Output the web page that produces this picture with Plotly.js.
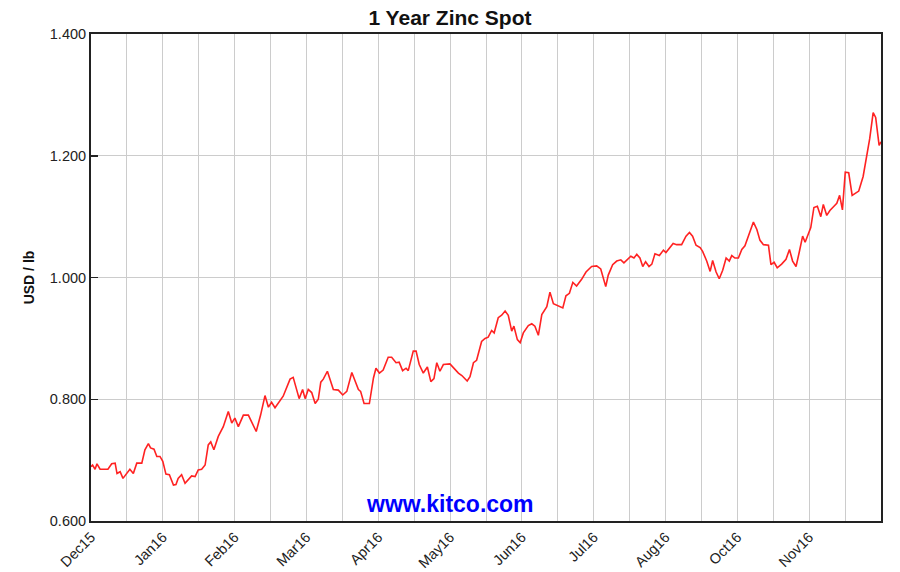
<!DOCTYPE html>
<html>
<head>
<meta charset="utf-8">
<script src="https://cdn.plot.ly/plotly-3.0.1.min.js"></script>
<style>html,body{margin:0;padding:0;background:#fff;}#chart{width:900px;height:572px;}</style>
</head>
<body>
<div id="chart"></div>
<script>
// Trading-day index (0 = start of Dec 2015) and zinc spot price in USD/lb
const tradingDay = [
  0.0,0.5,1.3,1.9,2.9,5.4,6.6,7.7,8.3,9.3,10.2,11.4,12.4,13.5,14.6,16.2,17.2,18.3,19.0,20.1,
  21.0,22.0,22.9,23.9,25.0,26.3,27.1,27.8,28.9,30.0,31.0,32.1,33.2,34.2,35.3,36.4,37.4,38.2,39.2,40.6,
  42.2,43.8,44.9,45.9,47.0,48.6,50.2,51.0,52.7,54.1,55.5,56.6,57.6,58.7,60.3,61.3,63.5,64.5,66.4,67.5,
  68.3,69.3,70.4,71.5,72.5,73.3,74.1,75.4,77.3,78.9,80.3,81.6,83.2,84.2,85.3,86.0,87.1,88.8,90.1,90.9,
  92.0,93.2,94.8,95.9,97.3,98.3,99.4,100.5,101.2,102.8,103.7,104.7,106.0,107.3,108.4,109.4,110.3,111.3,112.4,114.5,
  116.1,117.2,118.3,120.0,120.9,122.0,123.0,124.6,125.7,126.7,127.8,128.6,129.9,131.0,132.1,133.1,134.2,134.9,136.0,136.9,
  137.9,139.5,140.6,141.6,142.7,143.8,145.4,146.4,147.5,148.7,150.5,151.5,152.6,153.7,154.9,156.5,157.9,159.7,161.3,162.6,
  163.4,164.2,165.0,166.4,167.7,169.0,170.0,171.1,172.2,173.2,174.1,175.1,176.0,176.9,178.0,178.9,179.9,181.3,182.6,183.4,
  184.5,185.7,186.8,188.4,189.8,190.9,191.9,193.0,194.3,195.1,196.4,197.5,198.3,199.4,200.4,201.5,202.6,203.6,204.4,205.4,
  206.5,207.6,208.6,210.0,211.3,212.4,213.4,214.5,216.1,216.9,217.9,218.9,220.3,221.7,222.8,223.8,224.9,225.9,227.0,227.8,
  228.8,229.6,230.6,231.7,232.8,233.6,234.7,235.7,237.0,237.9,238.8,239.7,240.6,241.7,242.8,244.2,244.9,246.3,247.4,248.4,
  249.5,250.3,251.4,252.0
];
const price = [
  0.689,0.692,0.685,0.694,0.685,0.685,0.694,0.695,0.678,0.681,0.670,0.678,0.685,0.678,0.695,0.695,0.717,0.727,0.720,0.718,
  0.706,0.706,0.698,0.677,0.676,0.659,0.660,0.670,0.676,0.662,0.667,0.674,0.673,0.684,0.685,0.692,0.725,0.730,0.717,0.739,
  0.755,0.780,0.761,0.769,0.755,0.774,0.774,0.765,0.747,0.774,0.806,0.787,0.795,0.786,0.798,0.805,0.833,0.836,0.801,0.816,
  0.801,0.816,0.811,0.793,0.800,0.828,0.833,0.846,0.816,0.815,0.807,0.813,0.844,0.832,0.816,0.813,0.793,0.793,0.835,0.851,
  0.843,0.848,0.869,0.869,0.860,0.861,0.847,0.851,0.847,0.879,0.879,0.857,0.843,0.853,0.829,0.834,0.860,0.846,0.857,0.858,
  0.849,0.843,0.839,0.830,0.837,0.860,0.864,0.895,0.900,0.902,0.913,0.909,0.934,0.938,0.945,0.938,0.912,0.920,0.898,0.893,
  0.909,0.921,0.924,0.920,0.905,0.939,0.952,0.976,0.957,0.954,0.950,0.970,0.974,0.992,0.986,0.997,1.009,1.018,1.019,1.014,
  0.999,0.985,1.004,1.021,1.027,1.029,1.024,1.029,1.035,1.032,1.038,1.032,1.018,1.026,1.018,1.022,1.039,1.036,1.045,1.041,
  1.049,1.056,1.054,1.054,1.068,1.074,1.068,1.053,1.049,1.043,1.027,1.010,1.028,1.009,0.998,1.012,1.032,1.027,1.036,1.032,
  1.032,1.046,1.052,1.071,1.091,1.079,1.061,1.054,1.053,1.021,1.025,1.016,1.022,1.030,1.046,1.027,1.018,1.041,1.068,1.058,
  1.071,1.082,1.115,1.117,1.100,1.120,1.102,1.110,1.117,1.122,1.135,1.111,1.173,1.172,1.135,1.139,1.142,1.166,1.200,1.228,
  1.271,1.263,1.217,1.223
];
// Axis labels
const monthLabels = ["Dec15","Jan16","Feb16","Mar16","Apr16","May16","Jun16","Jul16","Aug16","Oct16","Nov16"];
const yTicks = [0.6, 0.8, 1.0, 1.2, 1.4];
const totalDays = 252;
const gridCount = 22;

const tickvals = [], ticktext = [];
for (let k = 0; k <= gridCount; k++) {
  tickvals.push(k * totalDays / gridCount);
  ticktext.push(k % 2 === 0 && monthLabels[k / 2] ? monthLabels[k / 2] : "");
}

const trace = {
  x: tradingDay, y: price, type: "scatter", mode: "lines",
  line: {color: "#ff2222", width: 1.6}, hoverinfo: "skip"
};

const font = "Arial, 'Liberation Sans', sans-serif";
const layout = {
  width: 900, height: 572,
  margin: {l: 91, r: 19, t: 34, b: 51, pad: 0},
  paper_bgcolor: "#ffffff", plot_bgcolor: "#ffffff",
  showlegend: false,
  title: {text: "<b>1 Year Zinc Spot</b>", font: {family: font, size: 21, color: "#111"}, x: 0.5, xanchor: "center", y: 0.97, yanchor: "middle"},
  xaxis: {
    range: [0, totalDays], tickmode: "array", tickvals: tickvals, ticktext: ticktext,
    tickangle: -45, tickfont: {family: font, size: 14.5, color: "#222"},
    showgrid: true, gridcolor: "#cccccc", gridwidth: 1,
    showline: true, linecolor: "#222", linewidth: 2, mirror: true,
    ticks: "", zeroline: false, fixedrange: true
  },
  yaxis: {
    range: [0.6, 1.4], tickmode: "array", tickvals: yTicks, ticktext: yTicks.map(v => v.toFixed(3)),
    tickfont: {family: font, size: 14.5, color: "#222"},
    title: {text: "<b>USD / lb</b>", font: {family: font, size: 14, color: "#111"}, standoff: 12},
    showgrid: true, gridcolor: "#cccccc", gridwidth: 1,
    showline: true, linecolor: "#222", linewidth: 2, mirror: true,
    ticks: "inside", ticklen: 7, tickcolor: "#222", tickwidth: 1.5,
    zeroline: false, fixedrange: true
  },
  annotations: [{
    text: "<b>www.kitco.com</b>", xref: "paper", yref: "paper", x: 0.4544, y: 0.035,
    xanchor: "center", yanchor: "middle", showarrow: false,
    font: {family: font, size: 23, color: "#0000ff"}
  }]
};

Plotly.newPlot("chart", [trace], layout, {displayModeBar: false, staticPlot: true});
</script>
</body>
</html>
